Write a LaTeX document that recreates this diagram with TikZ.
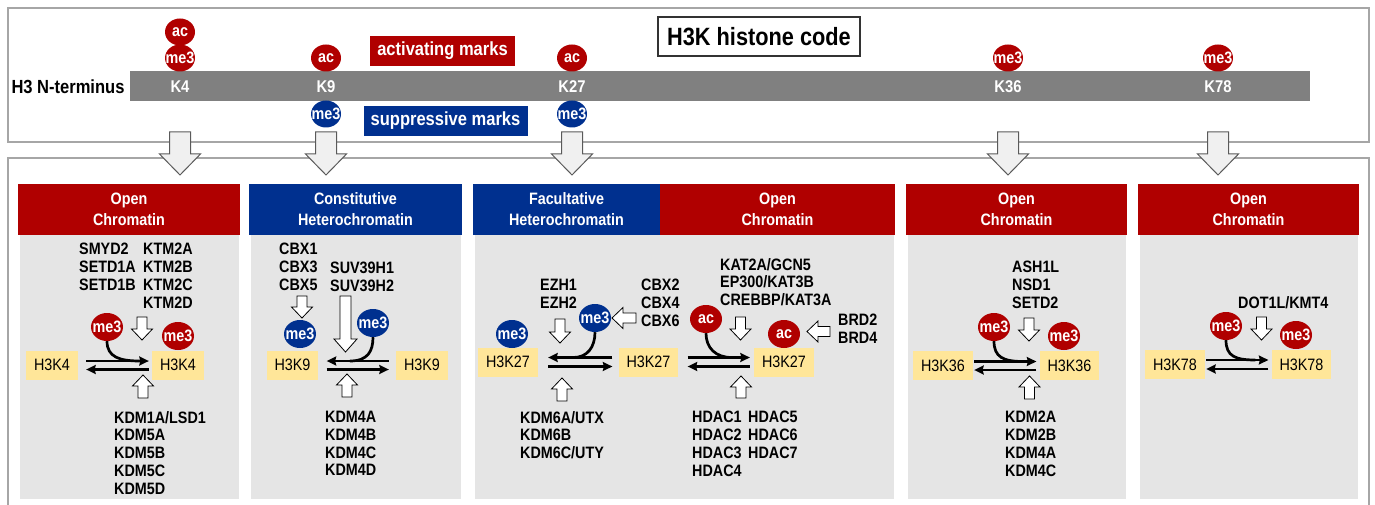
\documentclass[tikz,border=0pt]{standalone}
\usepackage{fontspec}
\setmainfont{Liberation Sans}[FakeStretch=0.87]
\usetikzlibrary{arrows.meta,shapes.geometric,calc}

\definecolor{hred}{RGB}{176,0,0}
\definecolor{hblue}{RGB}{0,48,143}
\definecolor{panelgray}{RGB}{229,229,229}
\definecolor{boxyellow}{RGB}{255,230,153}
\definecolor{bargray}{RGB}{128,128,128}
\definecolor{framegray}{RGB}{166,166,166}
\definecolor{arrowfill}{RGB}{240,240,240}
\definecolor{arrowline}{RGB}{90,90,90}

\newcommand{\marktxt}[1]{\makebox[0pt]{#1}}

\tikzset{
  lbl/.style={font=\bfseries\fontsize{16.5}{17.8}\selectfont, align=left, inner sep=0pt, anchor=north west},
  hbox/.style={fill=boxyellow, minimum height=29pt, inner xsep=8pt, inner ysep=0pt, font=\fontsize{16.5}{18}\selectfont},
  mk/.style={ellipse, minimum width=32pt, minimum height=28pt, inner sep=0pt, text=white, font=\bfseries\fontsize{16.5}{16.5}\selectfont},
  redmk/.style={mk, fill=hred},
  bluemk/.style={mk, fill=hblue},
  topred/.style={redmk, minimum width=30pt, minimum height=27pt},
  topblue/.style={bluemk, minimum width=30pt, minimum height=27pt},
  klbl/.style={text=white, inner sep=0pt, font=\bfseries\fontsize{17}{17}\selectfont},
  hdr/.style={minimum height=51pt, inner sep=0pt, text=white, align=center, font=\bfseries\fontsize{16.5}{21}\selectfont},
  rxn/.style={line width=2.7pt},
  rxnarr/.style={rxn, -{Stealth[length=9.5pt,width=9pt,inset=1pt]}},
  bigarrow/.style={fill=arrowfill, draw=arrowline, line width=1pt},
  smallarrow/.style={fill=white, draw=black, line width=0.8pt},
  pics/blkarrow/.style n args={5}{code={
    \draw[#5] (-#2,0) -- (-#2,#1-#4) -- (-#3,#1-#4) -- (0,#1) -- (#3,#1-#4) -- (#2,#1-#4) -- (#2,0) -- cycle;}},
}

\begin{document}
\begin{tikzpicture}[x=1pt,y=-1pt]
  \useasboundingbox (0,0) rectangle (1375,505);

  % frames
  \draw[framegray, line width=1.5pt] (8,8) rectangle (1369,142);
  \draw[framegray, line width=1.5pt] (8,515) -- (8,158) -- (1369,158) -- (1369,515);

  % H3 tail
  \node[inner sep=0pt, font=\bfseries\fontsize{19}{19}\selectfont] (nterm) at (68,87) {H3 N-terminus};
  \node[fill=bargray, minimum width=1180pt, minimum height=30pt, inner sep=0pt] (bar) at (720,86) {};
  \node[klbl] (k4) at (180,87) {K4};
  \node[klbl] (k9) at (326,87) {K9};
  \node[klbl] (k27) at (572,87) {K27};
  \node[klbl] (k36) at (1008,87) {K36};
  \node[klbl] (k78) at (1218,87) {K78};

  \node[topred] (k4ac) at (180,32) {\marktxt{ac}};
  \node[topred] (k4me) at (180,58) {\marktxt{me3}};
  \node[topred] (k9ac) at (326,58) {\marktxt{ac}};
  \node[topred] (k27ac) at (572,58) {\marktxt{ac}};
  \node[topred] (k36me) at (1008,58) {\marktxt{me3}};
  \node[topred] (k78me) at (1218,58) {\marktxt{me3}};
  \node[topblue] (k9me) at (326,114) {\marktxt{me3}};
  \node[topblue] (k27me) at (572,114) {\marktxt{me3}};

  \node[fill=hred, text=white, minimum width=145pt, minimum height=30pt, font=\bfseries\fontsize{19}{19}\selectfont] (actm) at (442.5,51) {activating marks};
  \node[fill=hblue, text=white, minimum width=164pt, minimum height=30pt, font=\bfseries\fontsize{19}{19}\selectfont] (supm) at (445.5,121) {suppressive marks};
  \node[draw=black!80, line width=1.2pt, minimum width=202pt, minimum height=39pt, font=\bfseries\fontsize{25}{25}\selectfont] (title) at (759,36.5) {H3K histone code};

  \foreach \kx in {180,326,572,1008,1218}
    \pic at (\kx,132) {blkarrow={43}{10.5}{20.5}{21}{bigarrow}};

  % panels
  \fill[panelgray] (20,235) rectangle (239,499);
  \fill[panelgray] (251,235) rectangle (461,499);
  \fill[panelgray] (475,235) rectangle (894,499);
  \fill[panelgray] (908,235) rectangle (1126,499);
  \fill[panelgray] (1140,235) rectangle (1358,499);
  \node[hdr, fill=hred, minimum width=222pt] (hd4) at (129,209.5) {Open\\Chromatin};
  \node[hdr, fill=hblue, minimum width=213pt] (hd9) at (355.5,209.5) {Constitutive\\Heterochromatin};
  \node[hdr, fill=hblue, minimum width=187pt] (hd27a) at (566.5,209.5) {Facultative\\Heterochromatin};
  \node[hdr, fill=hred, minimum width=235pt] (hd27b) at (777.5,209.5) {Open\\Chromatin};
  \node[hdr, fill=hred, minimum width=221pt] (hd36) at (1016.5,209.5) {Open\\Chromatin};
  \node[hdr, fill=hred, minimum width=221pt] (hd78) at (1248.5,209.5) {Open\\Chromatin};

  % H3K4
  \node[lbl] (w4a) at (79,243) {SMYD2\\SETD1A\\SETD1B};
  \node[lbl] (w4b) at (143,243) {KTM2A\\KTM2B\\KTM2C\\KTM2D};
  \node[lbl] (e4) at (114,411) {KDM1A/LSD1\\KDM5A\\KDM5B\\KDM5C\\KDM5D};
  \node[hbox] (h4l) at (52,365) {H3K4};
  \node[hbox] (h4r) at (178,365) {H3K4};
  \node[redmk] (m4a) at (107,327) {\marktxt{me3}};
  \node[redmk] (m4b) at (178,336) {\marktxt{me3}};
  \pic at (142,317) {blkarrow={23}{5}{10.5}{11}{smallarrow}};
  \pic[rotate=180] at (143,398) {blkarrow={23}{5}{10.5}{11}{smallarrow}};
  \draw[rxnarr, shorten <=8pt, shorten >=3pt] ([yshift=4pt]h4l.east) -- ([yshift=4pt]h4r.west);
  \draw[rxnarr, shorten <=3pt, shorten >=8pt] ([yshift=-4.5pt]h4r.west) -- ([yshift=-4.5pt]h4l.east);
  \coordinate (j4) at ([xshift=-12pt,yshift=4pt]h4r.west);
  \draw[rxn] (m4a.south) .. controls ($(m4a.south)+(0,16)$) and ($(j4)+(-20,0)$) .. (j4);

  % H3K9
  \node[lbl] (r9) at (279,243) {CBX1\\CBX3\\CBX5};
  \node[lbl] (w9) at (330,262) {SUV39H1\\SUV39H2};
  \node[lbl] (e9) at (325,411) {KDM4A\\KDM4B\\KDM4C\\KDM4D};
  \node[hbox] (h9l) at (292.5,365) {H3K9};
  \node[hbox] (h9r) at (422,365) {H3K9};
  \node[bluemk] (m9a) at (300,334) {\marktxt{me3}};
  \node[bluemk] (m9b) at (373,323) {\marktxt{me3}};
  \pic at (302,296) {blkarrow={22}{5}{10.5}{11}{smallarrow}};
  \pic at (345.5,296) {blkarrow={56}{5.5}{11.5}{13}{smallarrow}};
  \pic[rotate=180] at (347,397) {blkarrow={23}{5}{10.5}{11}{smallarrow}};
  \draw[rxnarr, shorten <=7pt, shorten >=8pt] ([yshift=4pt]h9r.west) -- ([yshift=4pt]h9l.east);
  \draw[rxnarr, shorten <=8pt, shorten >=7pt] ([yshift=-4.5pt]h9l.east) -- ([yshift=-4.5pt]h9r.west);
  \coordinate (j9) at ([xshift=-46pt,yshift=4pt]h9r.west);
  \draw[rxn] (m9b.south) .. controls ($(m9b.south)+(0,14)$) and ($(j9)+(18,0)$) .. (j9);

  % H3K27
  \node[lbl] (w27) at (540,279) {EZH1\\EZH2};
  \node[lbl] (r27) at (641,279) {CBX2\\CBX4\\CBX6};
  \node[lbl] (e27) at (520,411) {KDM6A/UTX\\KDM6B\\KDM6C/UTY};
  \node[lbl] (wa27) at (720,258) {KAT2A/GCN5\\EP300/KAT3B\\CREBBP/KAT3A};
  \node[lbl] (ra27) at (838,314) {BRD2\\BRD4};
  \node[lbl] (ea27) at (692,411) {HDAC1\\HDAC2\\HDAC3\\HDAC4};
  \node[lbl] (eb27) at (748,411) {HDAC5\\HDAC6\\HDAC7};
  \node[hbox] (h27a) at (508,362) {H3K27};
  \node[hbox] (h27b) at (648.5,362) {H3K27};
  \node[hbox] (h27c) at (784,362) {H3K27};
  \node[bluemk] (m27a) at (512,334) {\marktxt{me3}};
  \node[bluemk] (m27b) at (595,318) {\marktxt{me3}};
  \node[redmk] (a27a) at (706,319) {\marktxt{ac}};
  \node[redmk] (a27b) at (784,334) {\marktxt{ac}};
  \pic at (560,319) {blkarrow={24}{5}{10.5}{11}{smallarrow}};
  \pic[rotate=-90] at (636,318) {blkarrow={24}{5}{10.5}{11}{smallarrow}};
  \pic[rotate=180] at (562,401) {blkarrow={23}{5}{10.5}{11}{smallarrow}};
  \pic at (740.5,317) {blkarrow={23}{5}{10.5}{11}{smallarrow}};
  \pic[rotate=-90] at (830,331.5) {blkarrow={23}{5}{10.5}{11}{smallarrow}};
  \pic[rotate=180] at (741,398) {blkarrow={22}{5}{10.5}{11}{smallarrow}};
  \draw[rxnarr, shorten <=6pt, shorten >=10pt] ([yshift=4.5pt]h27b.west) -- ([yshift=4.5pt]h27a.east);
  \draw[rxnarr, shorten <=10pt, shorten >=6pt] ([yshift=-4.5pt]h27a.east) -- ([yshift=-4.5pt]h27b.west);
  \draw[rxnarr, shorten <=9pt, shorten >=4pt] ([yshift=4.5pt]h27b.east) -- ([yshift=4.5pt]h27c.west);
  \draw[rxnarr, shorten <=4pt, shorten >=9pt] ([yshift=-4.5pt]h27c.west) -- ([yshift=-4.5pt]h27b.east);
  \coordinate (j27a) at ([xshift=-45pt,yshift=4.5pt]h27b.west);
  \coordinate (j27b) at ([xshift=-22pt,yshift=4.5pt]h27c.west);
  \draw[rxn] (m27b.south) .. controls ($(m27b.south)+(0,15)$) and ($(j27a)+(14,0)$) .. (j27a);
  \draw[rxn] (a27a.south) .. controls ($(a27a.south)+(0,15)$) and ($(j27b)+(-16,0)$) .. (j27b);

  % H3K36
  \node[lbl] (w36) at (1012,261) {ASH1L\\NSD1\\SETD2};
  \node[lbl] (e36) at (1005,411) {KDM2A\\KDM2B\\KDM4A\\KDM4C};
  \node[hbox] (h36l) at (943,365.5) {H3K36};
  \node[hbox] (h36r) at (1069.5,365.5) {H3K36};
  \node[redmk] (m36a) at (994,327) {\marktxt{me3}};
  \node[redmk] (m36b) at (1064,336) {\marktxt{me3}};
  \pic at (1029,318) {blkarrow={23}{5}{10.5}{11}{smallarrow}};
  \pic[rotate=180] at (1029.5,399) {blkarrow={23}{5}{10.5}{11}{smallarrow}};
  \draw[rxnarr, shorten <=1pt, shorten >=3pt] ([yshift=4pt]h36l.east) -- ([yshift=4pt]h36r.west);
  \draw[rxnarr, shorten <=3pt, shorten >=1pt] ([yshift=-4.5pt]h36r.west) -- ([yshift=-4.5pt]h36l.east);
  \coordinate (j36) at ([xshift=-16pt,yshift=4pt]h36r.west);
  \draw[rxn] (m36a.south) .. controls ($(m36a.south)+(0,16)$) and ($(j36)+(-20,0)$) .. (j36);

  % H3K78
  \node[lbl] (w78) at (1238,296) {DOT1L/KMT4};
  \node[hbox] (h78l) at (1175,364.5) {H3K78};
  \node[hbox] (h78r) at (1301.5,364.5) {H3K78};
  \node[redmk] (m78a) at (1226,326) {\marktxt{me3}};
  \node[redmk] (m78b) at (1296,335) {\marktxt{me3}};
  \pic at (1261.5,317) {blkarrow={23}{5}{10.5}{11}{smallarrow}};
  \draw[rxnarr, shorten <=1pt, shorten >=3pt] ([yshift=4.5pt]h78l.east) -- ([yshift=4.5pt]h78r.west);
  \draw[rxnarr, shorten <=3pt, shorten >=1pt] ([yshift=-4.5pt]h78r.west) -- ([yshift=-4.5pt]h78l.east);
  \coordinate (j78) at ([xshift=-16pt,yshift=4.5pt]h78r.west);
  \draw[rxn] (m78a.south) .. controls ($(m78a.south)+(0,16)$) and ($(j78)+(-20,0)$) .. (j78);
\end{tikzpicture}
\end{document}
